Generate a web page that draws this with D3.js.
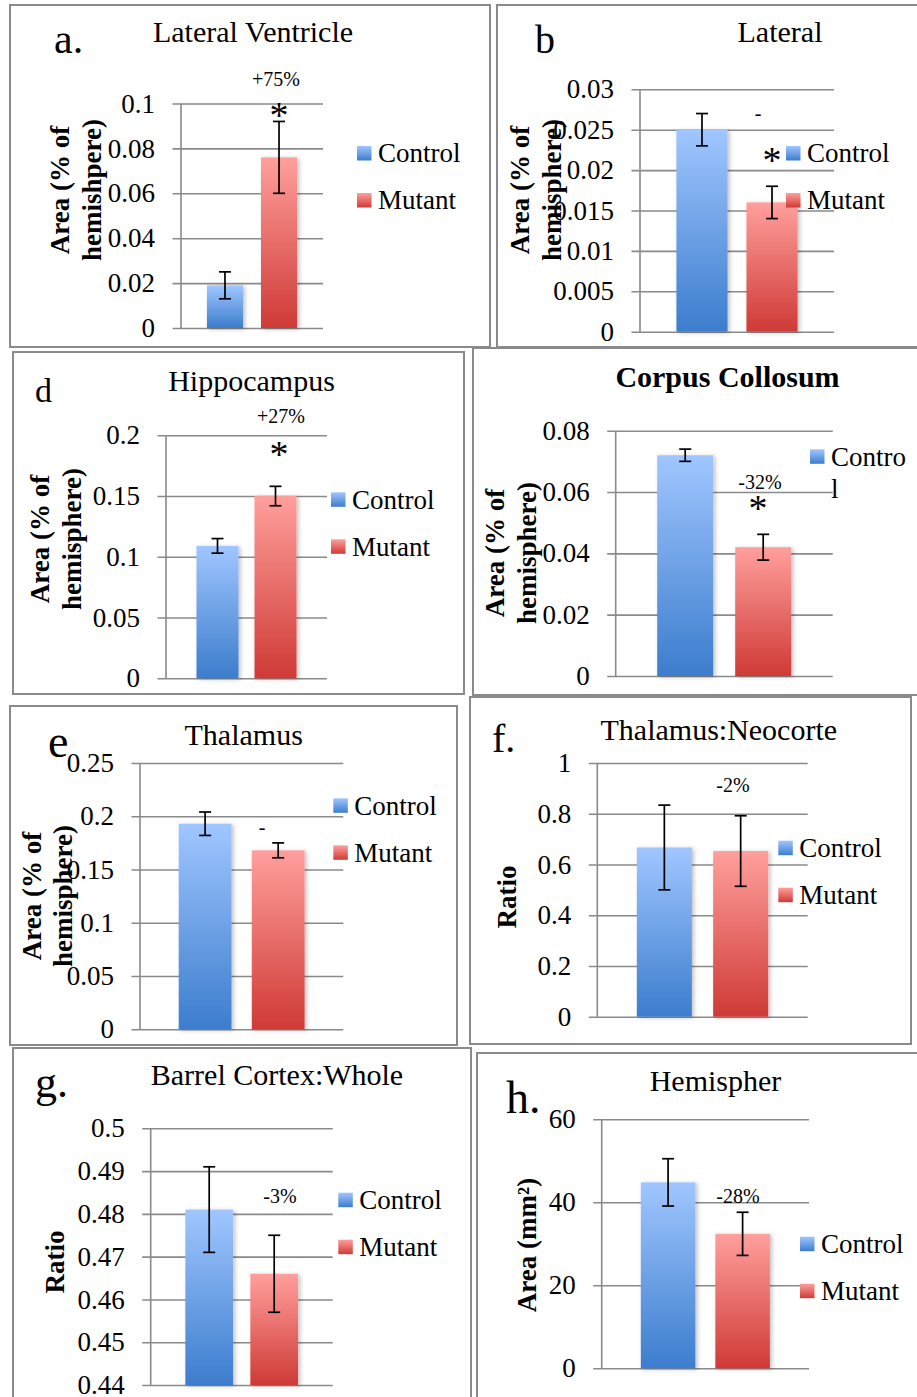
<!DOCTYPE html>
<html>
<head>
<meta charset="utf-8">
<script src="https://cdn.jsdelivr.net/npm/d3@7"></script>
<style>
  body { margin: 0; background: #fff; }
  svg { display: block; font-family: "Liberation Serif", "Times New Roman", serif; }
</style>
</head>
<body>
<div id="chart"></div>
<script>
// values, one entry per panel (a, b, d, c, e, f, g, h)
const panelTitles = ["Lateral Ventricle", "Lateral", "Hippocampus", "Corpus Collosum",
                     "Thalamus", "Thalamus:Neocorte", "Barrel Cortex:Whole", "Hemispher"];
const panelLetters = ["a.", "b", "d", "", "e", "f.", "g.", "h."];
const seriesNames = ["Control", "Mutant"];
const controlMeans  = [0.019, 0.025, 0.109, 0.072, 0.193, 0.667, 0.481, 44.8];
const controlErrors = [0.006, 0.002, 0.006, 0.002, 0.011, 0.167, 0.010, 5.7];
const mutantMeans   = [0.076, 0.016, 0.150, 0.042, 0.168, 0.653, 0.466, 32.4];
const mutantErrors  = [0.016, 0.002, 0.008, 0.0042, 0.007, 0.139, 0.009, 5.2];
const yMins = [0, 0, 0, 0, 0, 0, 0.44, 0];
const yMaxs = [0.1, 0.03, 0.2, 0.08, 0.25, 1, 0.5, 60];
const yTickSteps = [0.02, 0.005, 0.05, 0.02, 0.05, 0.2, 0.01, 20];
const changeLabels = ["+75%", "-", "+27%", "-32%", "-", "-2%", "-3%", "-28%"];
const starred = [true, true, true, true, false, false, false, false];
const yTitles = [["Area (% of", "hemishpere)"], ["Area (% of", "hemisphere)"],
                 ["Area (% of", "hemisphere)"], ["Area (% of", "hemisphere)"],
                 ["Area (% of", "hemisphere)"], ["Ratio"], ["Ratio"], ["Area (mm²)"]];
// legend text as it wraps in each panel (panel c only shows a broken "Control")
const legendTexts = [[["Control"], ["Mutant"]], [["Control"], ["Mutant"]], [["Control"], ["Mutant"]],
                     [["Contro", "l"]], [["Control"], ["Mutant"]], [["Control"], ["Mutant"]],
                     [["Control"], ["Mutant"]], [["Control"], ["Mutant"]]];

// page layout of each panel
const layout = [
  { frame: [10, 5, 490, 347], axisX: 181, gridX2: 323, yTop: 103.5, yBottom: 328, pi: 0.333, po: 0.48,
    title: [253, 42], letter: [54, 53, 42], change: [276, 79], star: [279, 112], legend: [357, 146], ylab: [[60, 92], 190] },
  { frame: [497, 5, 940, 347], axisX: 640, gridX2: 834, yTop: 89.3, yBottom: 331.7, pi: 0.27, po: 0.52,
    title: [780, 42], letter: [535, 53, 40], change: [758, 113], star: [772, 157], legend: [786, 146], ylab: [[520, 552], 190] },
  { frame: [13, 352, 464, 694], axisX: 166, gridX2: 327, yTop: 435.3, yBottom: 678.3, pi: 0.276, po: 0.526,
    title: [251.5, 390.5], letter: [35, 402, 34], change: [281, 416], star: [279, 451], legend: [331, 492.3], ylab: [[40, 72], 539] },
  { frame: [473, 348, 940, 695], axisX: 615.7, gridX2: 832.7, yTop: 430.7, yBottom: 676, pi: 0.282, po: 0.532,
    title: [727.5, 387], letter: [0, 0, 0], change: [760, 482], star: [758, 505], legend: [810, 449.3], ylab: [[495, 527], 553] },
  { frame: [10, 706, 457, 1045], axisX: 140, gridX2: 343.3, yTop: 763, yBottom: 1029.3, pi: 0.278, po: 0.53,
    title: [243.7, 745], letter: [48, 757, 46], change: [262, 827], star: null, legend: [333.3, 798.3], ylab: [[32, 63], 896] },
  { frame: [470, 697, 911, 1044], axisX: 597.3, gridX2: 807.7, yTop: 763, yBottom: 1016.7, pi: 0.279, po: 0.518,
    title: [718.8, 740], letter: [492, 752, 40], change: [733, 785], star: null, legend: [778.3, 840.7], ylab: [[507], 897] },
  { frame: [13, 1048, 471, 1420], axisX: 150.7, gridX2: 332.7, yTop: 1128.3, yBottom: 1385, pi: 0.266, po: 0.533,
    title: [277, 1085], letter: [35, 1097, 44], change: [280, 1196], star: null, legend: [338.3, 1192.7], ylab: [[55], 1262] },
  { frame: [477, 1053, 940, 1420], axisX: 601.7, gridX2: 809, yTop: 1119.3, yBottom: 1368.3, pi: 0.268, po: 0.525,
    title: [715.5, 1091], letter: [506, 1113, 46], change: [738, 1196], star: null, legend: [800, 1236.7], ylab: [[527], 1245] }
];

const width = 917, height = 1397;
const gridColor = "#8a8a8a";

const svg = d3.select("#chart").append("svg")
  .attr("width", width)
  .attr("height", height);

const defs = svg.append("defs");
const gradients = [["ctrlGrad", "#a0c6ff", "#3c7dcd"], ["mutGrad", "#ff9f9c", "#cf3a36"]];
gradients.forEach(g => {
  const lg = defs.append("linearGradient").attr("id", g[0])
    .attr("x1", 0).attr("y1", 0).attr("x2", 0).attr("y2", 1);
  lg.append("stop").attr("offset", "0%").attr("stop-color", g[1]);
  lg.append("stop").attr("offset", "100%").attr("stop-color", g[2]);
});
defs.append("filter").attr("id", "shadow")
  .attr("x", "-20%").attr("y", "-5%").attr("width", "150%").attr("height", "115%")
  .append("feDropShadow")
  .attr("dx", 2).attr("dy", 1).attr("stdDeviation", 2)
  .attr("flood-color", "#000").attr("flood-opacity", 0.25);

const fillFor = i => i === 0 ? "url(#ctrlGrad)" : "url(#mutGrad)";

layout.forEach((L, p) => {
  const g = svg.append("g");

  // frame
  g.append("rect")
    .attr("x", L.frame[0]).attr("y", L.frame[1])
    .attr("width", L.frame[2] - L.frame[0]).attr("height", L.frame[3] - L.frame[1])
    .attr("fill", "none").attr("stroke", gridColor).attr("stroke-width", 2);

  const y = d3.scaleLinear()
    .domain([yMins[p], yMaxs[p]])
    .range([L.yBottom, L.yTop]);
  const x = d3.scaleBand()
    .domain(seriesNames)
    .range([L.axisX, L.gridX2])
    .paddingInner(L.pi)
    .paddingOuter(L.po);

  const nTicks = Math.round((yMaxs[p] - yMins[p]) / yTickSteps[p]);
  const tickVals = d3.range(nTicks + 1).map(i => +(yMins[p] + i * yTickSteps[p]).toFixed(4));

  // gridlines + tick labels
  const tickLen = 8.5;
  const axis = g.append("g")
    .attr("transform", `translate(${L.axisX - tickLen},0)`)
    .call(d3.axisLeft(y)
      .tickValues(tickVals)
      .tickFormat(d => String(+d.toFixed(4)))
      .tickSize(-(L.gridX2 - L.axisX + tickLen))
      .tickPadding(17.5));
  axis.select(".domain").remove();
  axis.selectAll(".tick line").attr("stroke", gridColor).attr("stroke-width", 1.6);
  axis.selectAll(".tick text")
    .attr("fill", "#000")
    .style("font-family", "Liberation Serif, serif")
    .style("font-size", "27px");

  g.append("line")
    .attr("x1", L.axisX).attr("x2", L.axisX)
    .attr("y1", L.yTop).attr("y2", L.yBottom)
    .attr("stroke", gridColor).attr("stroke-width", 1.6);

  const means = [controlMeans[p], mutantMeans[p]];
  const errs = [controlErrors[p], mutantErrors[p]];

  // bars
  g.selectAll("rect.bar").data(seriesNames).enter().append("rect")
    .attr("class", "bar")
    .attr("x", d => x(d))
    .attr("width", x.bandwidth())
    .attr("y", (d, i) => y(means[i]))
    .attr("height", (d, i) => y(yMins[p]) - y(means[i]))
    .attr("fill", (d, i) => fillFor(i))
    .attr("filter", "url(#shadow)");

  // error bars
  const cap = 6;
  seriesNames.forEach((s, i) => {
    const cx = x(s) + x.bandwidth() / 2;
    const hi = y(means[i] + errs[i]), lo = y(means[i] - errs[i]);
    const eg = g.append("g").attr("stroke", "#000").attr("stroke-width", 1.7);
    eg.append("line").attr("x1", cx).attr("x2", cx).attr("y1", hi).attr("y2", lo);
    eg.append("line").attr("x1", cx - cap).attr("x2", cx + cap).attr("y1", hi).attr("y2", hi);
    eg.append("line").attr("x1", cx - cap).attr("x2", cx + cap).attr("y1", lo).attr("y2", lo);
  });

  // title
  g.append("text")
    .attr("x", L.title[0]).attr("y", L.title[1])
    .attr("text-anchor", "middle")
    .style("font-size", "30px")
    .style("font-weight", p === 3 ? "bold" : "normal")
    .text(panelTitles[p]);

  // panel letter
  if (panelLetters[p]) {
    g.append("text")
      .attr("x", L.letter[0]).attr("y", L.letter[1])
      .style("font-size", L.letter[2] + "px")
      .text(panelLetters[p]);
  }

  // change label and asterisk
  g.append("text")
    .attr("x", L.change[0]).attr("y", L.change[1])
    .attr("text-anchor", "middle")
    .attr("dominant-baseline", "central")
    .style("font-size", "20px")
    .text(changeLabels[p]);
  if (starred[p]) {
    g.append("text")
      .attr("x", L.star[0]).attr("y", L.star[1] + 16)
      .attr("text-anchor", "middle")
      .style("font-size", "38px")
      .text("*");
  }

  // y-axis title
  yTitles[p].forEach((line, k) => {
    g.append("text")
      .attr("transform", `translate(${L.ylab[0][k]},${L.ylab[1]}) rotate(-90)`)
      .attr("text-anchor", "middle")
      .attr("dominant-baseline", "central")
      .style("font-size", "27px")
      .style("font-weight", "bold")
      .text(line);
  });

  // legend
  const sw = 14.5, rowGap = 47;
  legendTexts[p].forEach((lines, i) => {
    const ty = L.legend[1] + i * rowGap;
    g.append("rect")
      .attr("x", L.legend[0]).attr("y", ty)
      .attr("width", sw).attr("height", sw)
      .attr("fill", fillFor(i));
    lines.forEach((t, k) => {
      g.append("text")
        .attr("x", L.legend[0] + 21)
        .attr("y", ty + sw / 2 + 9 + k * 32.5)
        .style("font-size", "27px")
        .text(t);
    });
  });
});
</script>
</body>
</html>
